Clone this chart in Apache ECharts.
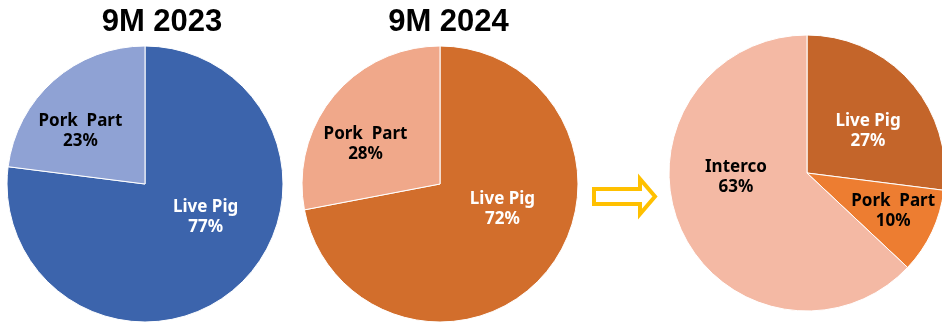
<!DOCTYPE html>
<html>
<head>
<meta charset="utf-8">
<script src="https://cdn.jsdelivr.net/npm/echarts@6/dist/echarts.min.js"></script>
<style>html,body{margin:0;padding:0;background:#fff}#c{width:942px;height:324px}</style>
</head>
<body>
<div id="c"></div>
<script>
// Data
const titles = ['9M 2023', '9M 2024'];
const pie1Names = ['Live Pig', 'Pork  Part'];
const pie1Values = [77, 23];
const pie2Names = ['Live Pig', 'Pork  Part'];
const pie2Values = [72, 28];
const pie3Names = ['Live Pig', 'Pork  Part', 'Interco'];
const pie3Values = [27, 10, 63];

// Styles / layout
const pie1Colors = ['#3C64AC', '#8FA2D4'];
const pie2Colors = ['#D26E2C', '#F0A88A'];
const pie3Colors = ['#C4652A', '#ED7D31', '#F4B9A4'];
const labelColors1 = ['#fff', '#000'];
const labelColors2 = ['#fff', '#000'];
const labelColors3 = ['#fff', '#000', '#000'];
const offsets1 = [[13, -21], [-17, 1]];
const offsets2 = [[7, -21], [-19, 6]];
const offsets3 = [[7, 6], [21, 8], [-5, -24]];
const titlePos = [[162, 22], [448.5, 22]];

function buildData(names, values, colors, labelColors) {
  return names.map((n, i) => ({
    name: n, value: values[i],
    itemStyle: { color: colors[i] },
    label: { color: labelColors[i] }
  }));
}
function makeSeries(center, names, values, colors, labelColors, offsets) {
  return {
    type: 'pie',
    center: center,
    radius: 138,
    startAngle: 90,
    clockwise: true,
    silent: true,
    animation: false,
    itemStyle: { borderColor: '#fff', borderWidth: 1 },
    label: {
      show: true,
      position: 'inside',
      formatter: p => p.name + '\n' + p.value + '%',
      fontFamily: 'Noto Sans',
      fontWeight: 'bold',
      fontSize: 17,
      lineHeight: 20,
      align: 'center'
    },
    labelLine: { show: false },
    labelLayout: function (p) {
      const o = offsets[p.dataIndex];
      return { dx: o[0], dy: o[1] };
    },
    data: buildData(names, values, colors, labelColors)
  };
}

const chart = echarts.init(document.getElementById('c'), null, { renderer: 'canvas' });
chart.setOption({
  animation: false,
  graphic: titles.map((t, i) => ({
    type: 'text', x: titlePos[i][0], y: titlePos[i][1], silent: true,
    style: { text: t, align: 'center', verticalAlign: 'middle', fill: '#000',
      font: 'bold 31px "Liberation Sans", Arial, sans-serif' }
  })).concat([{
    type: 'polygon',
    shape: { points: [[594, 189], [640, 189], [640, 179], [655, 196.5], [640, 214], [640, 204], [594, 204]] },
    style: { fill: '#fff', stroke: '#FFC000', lineWidth: 4, lineJoin: 'miter' },
    silent: true
  }]),
  series: [
    makeSeries([145, 184], pie1Names, pie1Values, pie1Colors, labelColors1, offsets1),
    makeSeries([440, 184], pie2Names, pie2Values, pie2Colors, labelColors2, offsets2),
    makeSeries([807, 173], pie3Names, pie3Values, pie3Colors, labelColors3, offsets3)
  ]
});
</script>
</body>
</html>
